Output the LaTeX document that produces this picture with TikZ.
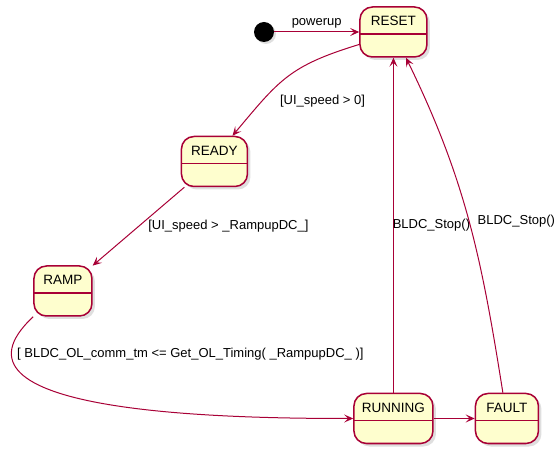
\documentclass[tikz,border=0pt]{standalone}
\usepackage{fontspec}
\setmainfont{Liberation Sans}
\usepackage{tikz}
\usetikzlibrary{arrows.meta,positioning,shadows}
\definecolor{umlred}{HTML}{A80036}
\definecolor{umlfill}{HTML}{FEFECE}

\begin{document}
\begin{tikzpicture}[>={Stealth[length=9pt,width=8pt,inset=4pt]},
  statebox/.style={draw=umlred,fill=umlfill,line width=1.5pt,rounded corners=12.5pt,
    minimum height=50pt,inner xsep=2pt,inner ysep=0pt,text height=19pt,text depth=31pt,
    font=\fontsize{13.5}{16}\selectfont,
    drop shadow={shadow xshift=3pt,shadow yshift=-3pt,fill=black!25},
    path picture={\draw[umlred,line width=1.5pt] ([yshift=-27pt]path picture bounding box.north west) -- ([yshift=-27pt]path picture bounding box.north east);}},
  trans/.style={->,draw=umlred,line width=1pt},
  lbl/.style={font=\fontsize{13}{15}\selectfont,text=black}]
  \useasboundingbox (0,0) rectangle (560pt,-454pt);
  \node[circle,fill=black,minimum size=20pt,inner sep=0pt,drop shadow={shadow xshift=2pt,shadow yshift=-2pt,fill=black!25}] (start) at (264pt,-32pt) {};
  \node[statebox,minimum width=67pt,right=85pt of start] (reset) {RESET};
  \node[statebox,minimum width=66pt,below left=78pt and 111pt of reset] (ready) {READY};
  \node[statebox,minimum width=58pt,below left=78pt and 88pt of ready] (ramp) {RAMP};
  \node[statebox,minimum width=79pt,below=335pt of reset] (running) {RUNNING};
  \node[statebox,minimum width=63pt,right=41pt of running] (fault) {FAULT};
  \draw[trans] (start) -- node[lbl,above] {powerup} (reset);
  \draw[trans] (reset.200) to[out=197,in=50,looseness=1.2] node[lbl,pos=0.75,right=14pt] {[UI\_speed > 0]} (ready.55);
  \draw[trans] (ready) -- node[lbl,midway,right=6pt] {[UI\_speed > \_RampupDC\_]} (ramp);
  \draw[trans] (ramp.south west) to[out=223,in=180,out distance=140pt,in distance=139pt] node[lbl,pos=0.15,right=2pt] {[ BLDC\_OL\_comm\_tm <= Get\_OL\_Timing( \_RampupDC\_ )]} (running.west);
  \draw[trans] (running) -- (fault);
  \draw[trans] (running) -- node[lbl,midway,right=-4.5pt] {BLDC\_Stop()} (reset);
  \draw[trans] (fault) to[out=99,in=296] node[lbl,pos=0.5,right=5pt] {BLDC\_Stop()} (reset);
\end{tikzpicture}
\end{document}
